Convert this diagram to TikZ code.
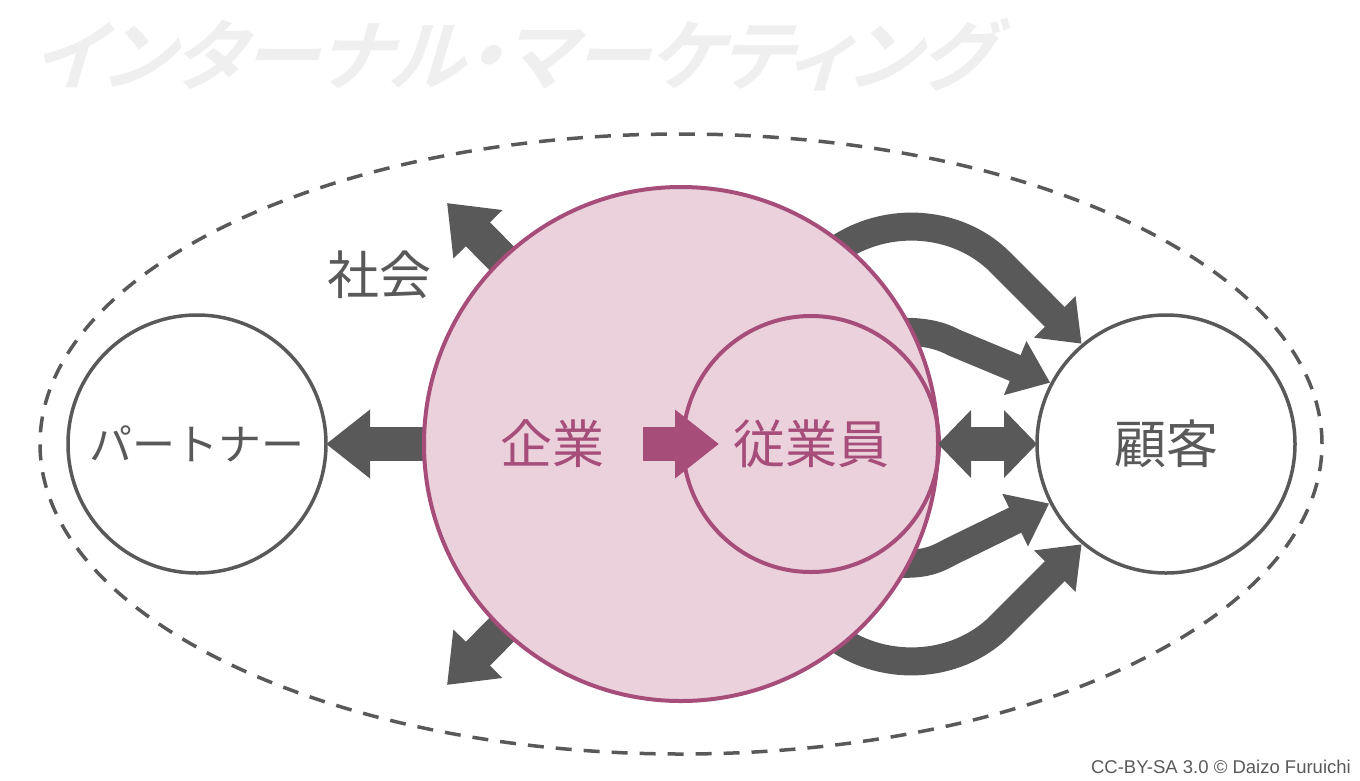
\documentclass[tikz,border=0pt]{standalone}
\usepackage{fontspec}
\usetikzlibrary{arrows.meta,backgrounds,bending,shapes.geometric}
\setmainfont{Liberation Sans}
\newfontfamily\jp{Noto Sans CJK JP}
\newfontfamily\jptitle[UprightFont={* Bold},UprightFeatures={FakeSlant=0.3},RawFeature=+palt]{Noto Sans CJK JP}
\definecolor{gr}{HTML}{595959}
\definecolor{mg}{HTML}{A64D79}
\definecolor{pk}{HTML}{EAD1DC}
\definecolor{ttl}{HTML}{EFEFEF}
\tikzset{
  ball/.style={circle,draw=gr,fill=white,line width=3.5pt,outer sep=0pt,inner sep=0pt,text=gr,minimum size=258pt},
  pinkball/.style={ball,draw=mg,fill=pk,text=mg,line width=4pt},
  lab/.style={inner sep=0pt,outer sep=0pt,font=\jp\fontsize{52}{52}\selectfont},
  flow/.style={draw=gr,line width=28pt,shorten >=2pt,-{Triangle[length=38pt,width=56pt,fill=gr]}},
  wide/.style={draw=gr,line width=34pt,-{Triangle[length=44pt,width=66pt,fill=gr]}},
  twin/.style={draw=gr,line width=34pt,{Triangle[length=33pt,width=66pt,fill=gr]}-{Triangle[length=33pt,width=66pt,fill=gr]}},
}
\begin{document}
\begin{tikzpicture}[x=1pt,y=-1pt]
\useasboundingbox (0,0) rectangle (1360,780);
\node[inner sep=0pt,text=ttl,font=\jptitle\fontsize{77}{77}\selectfont] (title) at (512,55) {インターナル・マーケティング};
\node[draw=gr,line width=3.5pt,dash pattern=on 16pt off 12pt,ellipse,minimum width=1282pt,minimum height=620pt,inner sep=0pt,outer sep=0pt] (society) at (681,444) {};
\node[ball] (partner) at (197,444) {\jp\fontsize{43}{43}\selectfont パートナー};
\node[ball] (customer) at (1166,444) {\jp\fontsize{52}{52}\selectfont 顧客};
\node[pinkball,minimum size=514pt] (firm) at (681,444) {};
\node[pinkball,fill=none,minimum size=256pt] (staff) at (811,444) {\jp\fontsize{52}{52}\selectfont 従業員};
\node[lab,text=mg] (firmlabel) at (552,444) {企業};
\node[lab,text=gr] (soclabel) at (379,275) {社会};
\coordinate (nw) at (447,203);
\coordinate (sw) at (447,685);
\coordinate (magstart) at (643,444);
\coordinate (magtip) at (719,444);
\begin{scope}[on background layer]
  \draw[flow,shorten <=-18pt] (firm.51) .. controls (880,214) and (956,218) .. (1000,262) -- (customer.130);
  \draw[flow,shorten <=-18pt] (firm.26) .. controls (928,331) and (941,336) .. (955,343) -- (customer.152);
  \draw[flow,shorten <=-18pt] (firm.-51) .. controls (880,674) and (956,670) .. (1000,626) -- (customer.-130);
  \draw[flow,shorten <=-18pt] (firm.-28) .. controls (925,566) and (937,559) .. (950,552) -- (customer.-153);
  \draw[wide,shorten <=-20pt] (firm.134) -- (nw);
  \draw[wide,shorten <=-20pt] (firm.226) -- (sw);
  \draw[wide,shorten <=-10pt] (firm.west) -- (partner.east);
\end{scope}
\draw[twin] (firm.east) -- (customer.west);
\draw[draw=mg,line width=34pt,-{Triangle[length=44pt,width=66pt,fill=mg]}] (magstart) -- (magtip);
\node[anchor=east,inner sep=0pt,text=gr,font=\fontsize{18.5}{18.5}\selectfont] (credit) at (1351,767) {CC-BY-SA 3.0 © Daizo Furuichi};
\end{tikzpicture}
\end{document}
